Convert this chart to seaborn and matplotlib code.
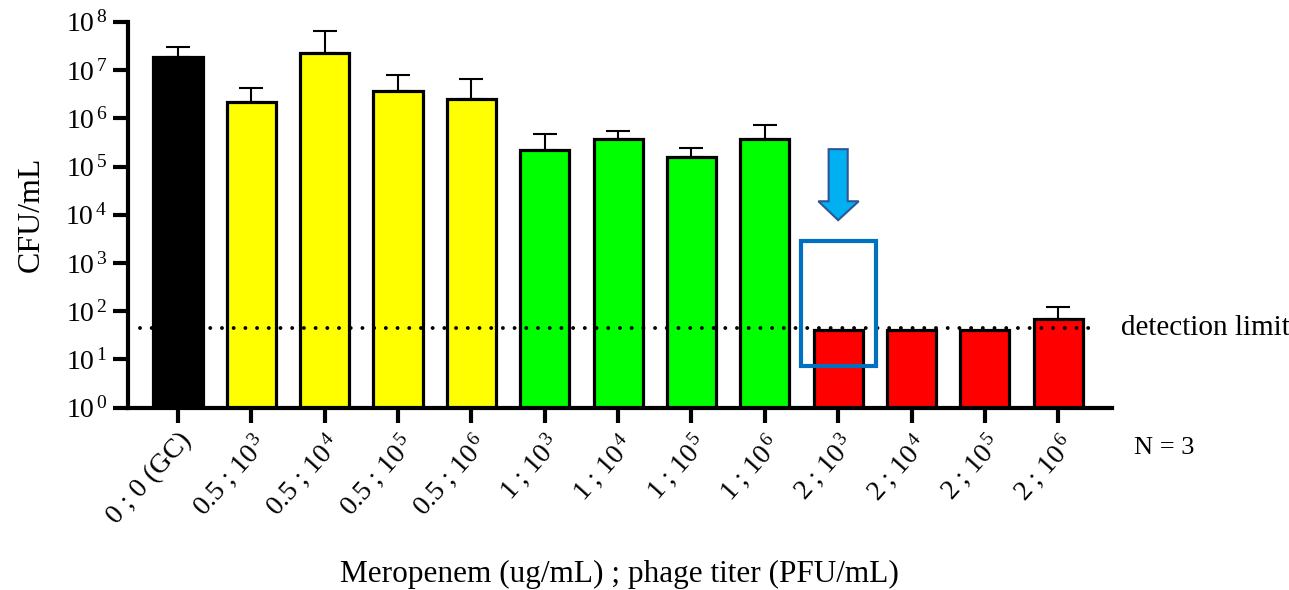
import numpy as np
import pandas as pd
import matplotlib
matplotlib.use("Agg")
import matplotlib.pyplot as plt
import matplotlib.transforms as mtransforms
from matplotlib.patches import Polygon, Rectangle
import seaborn as sns

# Treatment groups: meropenem (ug/mL) ; phage titer (PFU/mL)
meropenem = ["0", "0.5", "0.5", "0.5", "0.5", "1", "1", "1", "1", "2", "2", "2", "2"]
phage_exp = [None, 3, 4, 5, 6, 3, 4, 5, 6, 3, 4, 5, 6]
cfu_mean = [1.9e7, 2.2e6, 2.3e7, 3.7e6, 2.5e6, 2.2e5, 3.7e5, 1.6e5, 3.8e5, 40, 40, 40, 69]
cfu_upper = [3.0e7, 4.3e6, 6.4e7, 7.9e6, 6.4e6, 4.7e5, 5.5e5, 2.4e5, 7.3e5, 40, 40, 40, 123]
bar_colors = ["#000000", "#FFFF00", "#FFFF00", "#FFFF00", "#FFFF00",
              "#00FF00", "#00FF00", "#00FF00", "#00FF00",
              "#FF0000", "#FF0000", "#FF0000", "#FF0000"]
detection_limit = 45
ytick_exps = [0, 1, 2, 3, 4, 5, 6, 7, 8]

sns.set_theme(style="ticks")
plt.rcParams["font.family"] = ["Liberation Serif", "DejaVu Serif"]
plt.rcParams["mathtext.fontset"] = "custom"
plt.rcParams["mathtext.rm"] = "Liberation Serif"
plt.rcParams["mathtext.it"] = "Liberation Serif:italic"
plt.rcParams["mathtext.bf"] = "Liberation Serif:bold"
for key in ["text.color", "axes.labelcolor", "xtick.color", "ytick.color", "axes.edgecolor"]:
    plt.rcParams[key] = "black"

groups = [f"g{i}" for i in range(len(cfu_mean))]
df = pd.DataFrame({"group": groups, "cfu": cfu_mean})

fig = plt.figure(figsize=(12.89, 5.90), dpi=100)
ax = fig.add_axes([0.0993, 0.309, 0.7632, 0.654])

sns.barplot(data=df, x="group", y="cfu", hue="group", palette=bar_colors,
            legend=False, errorbar=None, saturation=1, width=0.67,
            edgecolor="black", linewidth=2.3, ax=ax, zorder=2)
ax.set_yscale("log")

# upper-only error bars
xpos = np.arange(len(cfu_mean))
upper = np.array(cfu_upper) - np.array(cfu_mean)
mask = upper > 0
ax.errorbar(xpos[mask], np.array(cfu_mean)[mask],
            yerr=[np.zeros(mask.sum()), upper[mask]],
            fmt="none", ecolor="black", elinewidth=1.5, capsize=8.5,
            capthick=1.5, zorder=1)

ax.set_ylim(1, 1e8)
ax.set_xlim(-0.682, 12.73)
ax.set_yticks([10.0 ** e for e in ytick_exps])
ax.set_yticklabels([rf"$\mathregular{{10^{{\,{e}}}}}$" for e in ytick_exps], fontsize=20)
ax.yaxis.set_minor_locator(matplotlib.ticker.NullLocator())

xlabels = []
for m, p in zip(meropenem, phage_exp):
    if p is None:
        xlabels.append(f"{m} ; 0 (GC)")
    else:
        xlabels.append(rf"{m} ; $\mathregular{{10^{{\,{p}}}}}$")
ax.set_xticks(xpos)
ax.set_xticklabels(xlabels, rotation=48, ha="right", rotation_mode="anchor", fontsize=20)

for s in ["top", "right"]:
    ax.spines[s].set_visible(False)
for s in ["left", "bottom"]:
    ax.spines[s].set_linewidth(3)
ax.tick_params(axis="both", which="major", direction="out", length=11, width=3,
               color="black", labelcolor="black", pad=4)

ax.set_ylabel("CFU/mL", fontsize=23, labelpad=14)
ax.set_xlabel("Meropenem (ug/mL) ; phage titer (PFU/mL)", fontsize=22.5, labelpad=22)

# detection limit
ax.plot([-0.52, 12.55], [detection_limit, detection_limit], color="black",
        linewidth=2.8, linestyle=(0, (0.01, 3.0)), dash_capstyle="round",
        zorder=4, clip_on=False)
ax.text(12.85, detection_limit, "detection limit", fontsize=21,
        va="center", ha="left", clip_on=False)
ax.text(13.03, 0.144, "N = 3", fontsize=19, va="center", ha="left",
        transform=ax.transData, clip_on=False)

# highlight box and arrow on the 2 ; 10^3 group
ax.add_patch(Rectangle((8.5, 7.3), 1.01, 2800 - 7.3, fill=False,
                       edgecolor="#0070C0", linewidth=3, zorder=5, clip_on=False))
trans = mtransforms.blended_transform_factory(ax.transData, ax.transAxes)
arrow = Polygon([(8.87, 0.670), (9.13, 0.670), (9.13, 0.535), (9.28, 0.535),
                 (9.0, 0.486), (8.73, 0.535), (8.87, 0.535)], closed=True,
                facecolor="#00B0F0", edgecolor="#2F5597", linewidth=1.5,
                transform=trans, zorder=5, clip_on=False)
ax.add_patch(arrow)

fig.savefig("out.png", dpi=100, facecolor="white")
